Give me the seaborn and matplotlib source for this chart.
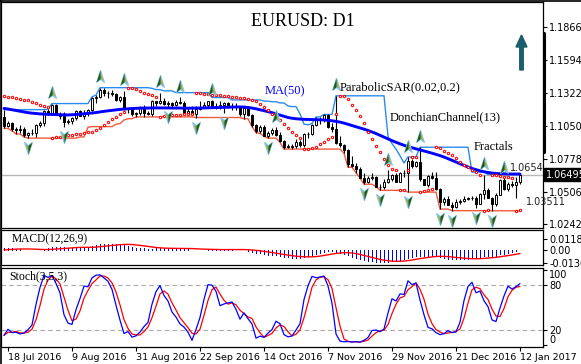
import numpy as np
import pandas as pd
import matplotlib
matplotlib.use("Agg")
import matplotlib.pyplot as plt
import seaborn as sns
from matplotlib.path import Path
from matplotlib.markers import MarkerStyle
from matplotlib.lines import Line2D
from matplotlib.patches import FancyArrow
import matplotlib.transforms as mtrans

sns.set_style("white")
plt.rcParams['font.family'] = ['DejaVu Sans']

# ---------------- data (EURUSD daily, 15 Jul 2016 - 12 Jan 2017) ----------------
opens = [1.1125, 1.1050, 1.1075, 1.1025, 1.1015, 1.1025, 1.0975, 1.0990, 1.0995, 1.1060,
         1.1075, 1.1170, 1.1160, 1.1225, 1.1150, 1.1130, 1.1085, 1.1090, 1.1115, 1.1170,
         1.1135, 1.1160, 1.1180, 1.1280, 1.1290, 1.1350, 1.1325, 1.1320, 1.1310, 1.1265,
         1.1285, 1.1195, 1.1190, 1.1145, 1.1155, 1.1195, 1.1155, 1.1150, 1.1255, 1.1240,
         1.1260, 1.1235, 1.1240, 1.1220, 1.1245, 1.1240, 1.1155, 1.1170, 1.1150, 1.1190,
         1.1210, 1.1225, 1.1255, 1.1215, 1.1215, 1.1220, 1.1240, 1.1210, 1.1205, 1.1205,
         1.1150, 1.1200, 1.1140, 1.1055, 1.1005, 1.1045, 1.0970, 1.0995, 1.1015, 1.0975,
         1.0930, 1.0880, 1.0880, 1.0885, 1.0915, 1.0895, 1.0985, 1.0980, 1.1055, 1.1100,
         1.1100, 1.1140, 1.1045, 1.1025, 1.0910, 1.0895, 1.0855, 1.0735, 1.0720, 1.0695,
         1.0625, 1.0590, 1.0625, 1.0630, 1.0550, 1.0545, 1.0590, 1.0615, 1.0645, 1.0590,
         1.0665, 1.0665, 1.0760, 1.0720, 1.0755, 1.0610, 1.0565, 1.0635, 1.0625, 1.0530,
         1.0420, 1.0450, 1.0400, 1.0385, 1.0425, 1.0435, 1.0450, 1.0455, 1.0455, 1.0410,
         1.0490, 1.0520, 1.0460, 1.0405, 1.0485, 1.0605, 1.0530, 1.0575, 1.0560, 1.0585]
highs = [1.1185, 1.1090, 1.1085, 1.1040, 1.1060, 1.1040, 1.1000, 1.1025, 1.1065, 1.1090,
         1.1185, 1.1190, 1.1235, 1.1230, 1.1165, 1.1165, 1.1105, 1.1125, 1.1180, 1.1185,
         1.1185, 1.1190, 1.1290, 1.1305, 1.1366, 1.1360, 1.1340, 1.1350, 1.1320, 1.1295,
         1.1340, 1.1200, 1.1195, 1.1165, 1.1215, 1.1225, 1.1170, 1.1265, 1.1260, 1.1325,
         1.1280, 1.1255, 1.1250, 1.1265, 1.1285, 1.1255, 1.1195, 1.1215, 1.1215, 1.1255,
         1.1245, 1.1260, 1.1265, 1.1240, 1.1255, 1.1250, 1.1250, 1.1240, 1.1240, 1.1215,
         1.1205, 1.1210, 1.1150, 1.1065, 1.1055, 1.1060, 1.1005, 1.1030, 1.1040, 1.1000,
         1.0935, 1.0905, 1.0905, 1.0945, 1.0935, 1.0990, 1.1000, 1.1070, 1.1125, 1.1125,
         1.1145, 1.1145, 1.1075, 1.1299, 1.0965, 1.0905, 1.0860, 1.0805, 1.0745, 1.0715,
         1.0660, 1.0640, 1.0660, 1.0640, 1.0575, 1.0615, 1.0685, 1.0655, 1.0665, 1.0670,
         1.0690, 1.0795, 1.0780, 1.0765, 1.0875, 1.0615, 1.0650, 1.0670, 1.0670, 1.0535,
         1.0465, 1.0475, 1.0420, 1.0445, 1.0450, 1.0470, 1.0465, 1.0470, 1.0475, 1.0500,
         1.0650, 1.0535, 1.0465, 1.0495, 1.0615, 1.0620, 1.0585, 1.0600, 1.0630, 1.0654]
lows = [1.1030, 1.1040, 1.1010, 1.0985, 1.0995, 1.0960, 1.0950, 1.0975, 1.0960, 1.1040,
        1.1050, 1.1140, 1.1150, 1.1140, 1.1110, 1.1045, 1.1065, 1.1070, 1.1100, 1.1130,
        1.1110, 1.1135, 1.1170, 1.1240, 1.1280, 1.1300, 1.1280, 1.1295, 1.1255, 1.1250,
        1.1180, 1.1155, 1.1135, 1.1125, 1.1140, 1.1125, 1.1140, 1.1135, 1.1215, 1.1230,
        1.1220, 1.1205, 1.1210, 1.1215, 1.1230, 1.1150, 1.1150, 1.1150, 1.1120, 1.1180,
        1.1200, 1.1205, 1.1200, 1.1190, 1.1190, 1.1160, 1.1195, 1.1180, 1.1185, 1.1135,
        1.1110, 1.1135, 1.1045, 1.0995, 1.0990, 1.0965, 1.0950, 1.0975, 1.0970, 1.0915,
        1.0860, 1.0865, 1.0860, 1.0870, 1.0880, 1.0880, 1.0950, 1.0975, 1.1050, 1.1070,
        1.1080, 1.1035, 1.1000, 1.0900, 1.0880, 1.0825, 1.0710, 1.0715, 1.0665, 1.0620,
        1.0570, 1.0580, 1.0605, 1.0550, 1.0520, 1.0530, 1.0580, 1.0600, 1.0585, 1.0590,
        1.0630, 1.0505, 1.0705, 1.0715, 1.0600, 1.0560, 1.0550, 1.0615, 1.0525, 1.0365,
        1.0400, 1.0400, 1.0352, 1.0375, 1.0410, 1.0425, 1.0440, 1.0440, 1.0375, 1.0405,
        1.0450, 1.0455, 1.03511, 1.0390, 1.0480, 1.0525, 1.0515, 1.0550, 1.0455, 1.0570]
closes = [1.1050, 1.1075, 1.1025, 1.1015, 1.1025, 1.0975, 1.0990, 1.0995, 1.1060, 1.1075,
          1.1170, 1.1160, 1.1225, 1.1150, 1.1130, 1.1085, 1.1090, 1.1115, 1.1170, 1.1135,
          1.1160, 1.1180, 1.1280, 1.1290, 1.1350, 1.1325, 1.1320, 1.1310, 1.1265, 1.1285,
          1.1195, 1.1190, 1.1145, 1.1155, 1.1195, 1.1155, 1.1150, 1.1255, 1.1240, 1.1260,
          1.1235, 1.1240, 1.1220, 1.1245, 1.1240, 1.1155, 1.1170, 1.1150, 1.1190, 1.1210,
          1.1225, 1.1255, 1.1215, 1.1215, 1.1220, 1.1240, 1.1210, 1.1205, 1.1205, 1.1150,
          1.1200, 1.1140, 1.1055, 1.1005, 1.1045, 1.0970, 1.0995, 1.1015, 1.0975, 1.0930,
          1.0880, 1.0880, 1.0885, 1.0915, 1.0895, 1.0985, 1.0980, 1.1055, 1.1100, 1.1100,
          1.1140, 1.1045, 1.1025, 1.0910, 1.0895, 1.0855, 1.0735, 1.0720, 1.0695, 1.0625,
          1.0590, 1.0625, 1.0630, 1.0550, 1.0545, 1.0590, 1.0615, 1.0645, 1.0590, 1.0665,
          1.0665, 1.0760, 1.0720, 1.0755, 1.0610, 1.0565, 1.0635, 1.0625, 1.0530, 1.0420,
          1.0450, 1.0400, 1.0385, 1.0425, 1.0435, 1.0450, 1.0455, 1.0455, 1.0410, 1.0490,
          1.0520, 1.0460, 1.0405, 1.0485, 1.0605, 1.0530, 1.0575, 1.0560, 1.0585, 1.06495]
ma50 = [1.1195, 1.1190, 1.1184, 1.1178, 1.1172, 1.1166, 1.1160, 1.1156, 1.1153, 1.1150,
        1.1148, 1.1146, 1.1145, 1.1144, 1.1143, 1.1142, 1.1141, 1.1143, 1.1145, 1.1148,
        1.1151, 1.1154, 1.1157, 1.1161, 1.1166, 1.1171, 1.1175, 1.1179, 1.1183, 1.1187,
        1.1190, 1.1192, 1.1194, 1.1196, 1.1197, 1.1198, 1.1198, 1.1199, 1.1199, 1.1199,
        1.1199, 1.1199, 1.1198, 1.1198, 1.1198, 1.1197, 1.1197, 1.1197, 1.1198, 1.1198,
        1.1199, 1.1200, 1.1201, 1.1202, 1.1203, 1.1204, 1.1205, 1.1206, 1.1207, 1.1207,
        1.1206, 1.1203, 1.1198, 1.1192, 1.1184, 1.1176, 1.1168, 1.1160, 1.1150, 1.1140,
        1.1130, 1.1120, 1.1114, 1.1110, 1.1107, 1.1105, 1.1104, 1.1103, 1.1102, 1.1101,
        1.1100, 1.1097, 1.1093, 1.1088, 1.1082, 1.1074, 1.1064, 1.1054, 1.1044, 1.1034,
        1.1024, 1.1013, 1.1001, 1.0988, 1.0973, 1.0958, 1.0943, 1.0929, 1.0916, 1.0903,
        1.0891, 1.0880, 1.0871, 1.0862, 1.0853, 1.0844, 1.0835, 1.0826, 1.0816, 1.0806,
        1.0794, 1.0781, 1.0767, 1.0753, 1.0739, 1.0725, 1.0712, 1.0700, 1.0690, 1.0681,
        1.0673, 1.0667, 1.0662, 1.0659, 1.0657, 1.0656, 1.0655, 1.0654, 1.0654, 1.0654]
current_price = 1.06495
# indicator state carried in from before the first visible bar
sar_start, sar_ep_start, sar_af_start = 1.1300, 1.0952, 0.02
ema12_start, ema26_start = 1.1072, 1.1045
macd_prior = [-0.0012, -0.0010, -0.0008, -0.0005, -0.0002, 0.0001, 0.0005, 0.0009]

price_ticks = [1.18662, 1.15942, 1.13222, 1.10502, 1.07782, 1.05062, 1.02422]
price_labels = ["1.18662", "1.15942", "1.13222", "1.10502", "1.07782", "1.05062", "1.02422"]
macd_ticks = [0.01183, 0.0, -0.01368]
macd_labels = ["0.01183", "0.00", "-0.01368"]
stoch_ticks = [100, 80, 20, 0]
date_ticks = ["2016-07-18", "2016-08-09", "2016-08-31", "2016-09-22", "2016-10-14",
              "2016-11-07", "2016-11-29", "2016-12-21", "2017-01-12"]
date_labels = ["18 Jul 2016", "9 Aug 2016", "31 Aug 2016", "22 Sep 2016", "14 Oct 2016",
               "7 Nov 2016", "29 Nov 2016", "21 Dec 2016", "12 Jan 2017"]

# ---------------- indicators ----------------
o = np.array(opens); h = np.array(highs); l = np.array(lows); c = np.array(closes)
n = len(c)
x = np.arange(n)
dates = pd.bdate_range("2016-07-15", periods=n)

don_up = pd.Series(h).rolling(13, min_periods=1).max().values
don_lo = pd.Series(l).rolling(13, min_periods=1).min().values


def psar(high, low, s, ep, af, up=False, step=0.02, amax=0.2):
    out = np.zeros(len(high))
    for i in range(len(high)):
        if i > 0:
            s = s + af * (ep - s)
            if up:
                s = min(s, low[i - 1], low[max(i - 2, 0)])
            else:
                s = max(s, high[i - 1], high[max(i - 2, 0)])
        if up and low[i] < s:
            up, s, ep, af = False, ep, low[i], step
        elif (not up) and high[i] > s:
            up, s, ep, af = True, ep, high[i], step
        else:
            if up and high[i] > ep:
                ep, af = high[i], min(af + step, amax)
            elif (not up) and low[i] < ep:
                ep, af = low[i], min(af + step, amax)
        out[i] = s
    return out


sar = psar(h, l, sar_start, sar_ep_start, sar_af_start)


def ema(vals, start, span):
    a = 2.0 / (span + 1)
    out = []
    e = start
    for v in vals:
        e = e + a * (v - e)
        out.append(e)
    return np.array(out)


macd = ema(c, ema12_start, 12) - ema(c, ema26_start, 26)
macd_sig = pd.Series(list(macd_prior) + list(macd)).rolling(9, min_periods=1).mean().values[len(macd_prior):]

cs = pd.Series(c)
hh = pd.Series(h).rolling(5, min_periods=1).max()
ll = pd.Series(l).rolling(5, min_periods=1).min()
st_k = (100 * (cs - ll).rolling(3, min_periods=1).sum() / (hh - ll).rolling(3, min_periods=1).sum()).values
st_d = pd.Series(st_k).rolling(3, min_periods=1).mean().values

frac_up = [i for i in range(2, n - 2) if h[i] > max(h[i - 2], h[i - 1], h[i + 1], h[i + 2])]
frac_dn = [i for i in range(2, n - 2) if l[i] < min(l[i - 2], l[i - 1], l[i + 1], l[i + 2])]

# ---------------- figure ----------------
W, H = 581, 364
fig = plt.figure(figsize=(W / 100, H / 100), dpi=100)
fig.patch.set_facecolor("white")


def fax(left, top, right, bottom):
    return [left / W, 1 - bottom / H, (right - left) / W, (bottom - top) / H]


ax = fig.add_axes(fax(1, 2, 543, 228))
axm = fig.add_axes(fax(1, 230, 543, 265), sharex=ax)
axs = fig.add_axes(fax(1, 268, 543, 347), sharex=ax)

for a in (ax, axm, axs):
    a.set_facecolor("white")
    for sp in a.spines.values():
        sp.set_visible(True)
        sp.set_color("black")
        sp.set_linewidth(0.9)
    a.yaxis.tick_right()
    a.tick_params(axis="y", direction="out", length=3, width=0.8, pad=1.5,
                  labelsize=7, colors="black")
    a.grid(False)


def p_of(ypix):
    return 1.18662 - (ypix - 27) / 1213.0


ax.set_ylim(p_of(228), p_of(2))

# current price line
ax.axhline(current_price, color="#b8b8b8", lw=1.0, zorder=1)

# Donchian channel
sns.lineplot(x=x, y=don_up, ax=ax, color="#2a8cf0", lw=1.0, zorder=2)
sns.lineplot(x=x, y=don_lo, ax=ax, color="#f25a3c", lw=1.0, zorder=2)

# candles
ax.vlines(x, l, h, color="black", lw=0.8, zorder=3)
body_bot = np.minimum(o, c)
body_h = np.maximum(np.abs(c - o), 0.00012)
body_col = ["white" if cc >= oo else "black" for oo, cc in zip(o, c)]
ax.bar(x, body_h, bottom=body_bot, width=0.62, color=body_col, edgecolor="black",
       linewidth=0.7, zorder=4)

# MA(50)
sns.lineplot(x=x, y=ma50, ax=ax, color="#0000ff", lw=2.1, zorder=5)

# Parabolic SAR
ax.plot(x, sar, linestyle="none", marker="o", ms=1.7, mfc="white", mec="#ff0000",
        mew=0.75, zorder=6)

# Fractals
up_full = Path([(0, 1), (0.55, -0.7), (0, -0.25), (-0.55, -0.7), (0, 1)],
               [Path.MOVETO, Path.LINETO, Path.LINETO, Path.LINETO, Path.CLOSEPOLY])
up_half = Path([(0, 1), (0, -0.25), (-0.55, -0.7), (0, 1)],
               [Path.MOVETO, Path.LINETO, Path.LINETO, Path.CLOSEPOLY])
dn_full = Path([(0, -1), (0.55, 0.7), (0, 0.25), (-0.55, 0.7), (0, -1)],
               [Path.MOVETO, Path.LINETO, Path.LINETO, Path.LINETO, Path.CLOSEPOLY])
dn_half = Path([(0, -1), (0, 0.25), (0.55, 0.7), (0, -1)],
               [Path.MOVETO, Path.LINETO, Path.LINETO, Path.CLOSEPOLY])
tr_up = mtrans.offset_copy(ax.transData, fig=fig, y=7.5, units="points")
tr_dn = mtrans.offset_copy(ax.transData, fig=fig, y=-6.5, units="points")
fr_kw = dict(linestyle="none", ms=10, zorder=7)
ax.plot(frac_up, h[frac_up], marker=MarkerStyle(up_full), mfc="#a8a630", mec="#86c4e2",
        mew=0.9, transform=tr_up, **fr_kw)
ax.plot(frac_up, h[frac_up], marker=MarkerStyle(up_half), mfc="#175c1c", mec="none",
        transform=tr_up, **fr_kw)
ax.plot(frac_dn, l[frac_dn], marker=MarkerStyle(dn_full), mfc="#a8a630", mec="#86c4e2",
        mew=0.9, transform=tr_dn, **fr_kw)
ax.plot(frac_dn, l[frac_dn], marker=MarkerStyle(dn_half), mfc="#175c1c", mec="none",
        transform=tr_dn, **fr_kw)

ax.set_yticks(price_ticks)
ax.set_yticklabels(price_labels)
ax.tick_params(axis="x", bottom=False, labelbottom=False)
ax.set_xlabel(""); ax.set_ylabel("")

# price labels
blend = mtrans.blended_transform_factory(ax.transAxes, ax.transData)
ax.text(1.0 + 3 / 542, current_price, "%.5f" % current_price, transform=blend, ha="left",
        va="center", color="white", fontsize=7, clip_on=False, zorder=10,
        bbox=dict(boxstyle="square,pad=0.18", fc="black", ec="black"))
ax.text(n + 4.9, don_up[-1], "%.4f" % don_up[-1], ha="right", va="bottom", fontsize=7,
        color="#222222", clip_on=False,
        transform=mtrans.offset_copy(ax.transData, fig=fig, y=1.0, units="points"))
ax.text(n + 0.5, don_lo[-1], "%.5f" % don_lo[-1], ha="left", va="bottom", fontsize=7,
        color="#222222", clip_on=False, zorder=10,
        transform=mtrans.offset_copy(ax.transData, fig=fig, y=3.0, units="points"))

# MACD panel
axm.set_ylim(-0.0156, 0.0208)
axm.vlines(x, 0, macd, colors="#0000ff", lw=0.6, antialiased=False, zorder=2)
sns.lineplot(x=x, y=macd_sig, ax=axm, color="#ff0000", lw=1.0, zorder=3)
axm.set_yticks(macd_ticks)
axm.set_yticklabels(macd_labels)
axm.tick_params(axis="x", bottom=False, labelbottom=False)
axm.set_xlabel(""); axm.set_ylabel("")

# Stochastic panel
axs.set_ylim(-2.67, 102.67)
for lev in (80, 20):
    axs.axhline(lev, color="#a8a8a8", lw=0.8, ls=(0, (4, 3)), zorder=1)
sns.lineplot(x=x, y=st_k, ax=axs, color="#0000ff", lw=0.9, zorder=3)
sns.lineplot(x=x, y=st_d, ax=axs, color="#ff0000", lw=0.9, zorder=2)
axs.set_yticks(stoch_ticks)
axs.set_yticklabels([str(v) for v in stoch_ticks])
slabs = axs.get_yticklabels()
slabs[0].set_va("top"); slabs[3].set_va("bottom")
tick_pos = [dates.get_loc(pd.Timestamp(t)) for t in date_ticks]
axs.set_xticks(tick_pos)
axs.set_xticklabels(date_labels)
axs.tick_params(axis="x", bottom=True, direction="out", length=3, width=0.8, pad=1.5,
                labelsize=6.8, colors="black")
for lab in axs.get_xticklabels():
    lab.set_ha("left")
axs.set_xlabel(""); axs.set_ylabel("")
ax.set_xlim(-0.75, 134.75)

# texts
serif = ["Liberation Serif", "DejaVu Serif"]


def ftxt(px, py, s, **kw):
    fig.text(px / W, 1 - py / H, s, family=serif, **kw)


ftxt(302.5, 22, "EURUSD: D1", ha="center", va="center", fontsize=13, color="black")
ftxt(265, 91, "MA(50)", ha="left", va="center", fontsize=9, color="#0000ff")
ftxt(340, 87, "ParabolicSAR(0.02,0.2)", ha="left", va="center", fontsize=9, color="black")
ftxt(390, 117, "DonchianChannel(13)", ha="left", va="center", fontsize=9, color="black")
ftxt(474, 147, "Fractals", ha="left", va="center", fontsize=9, color="black")
ftxt(12, 239, "MACD(12,26,9)", ha="left", va="center", fontsize=8.3, color="black")
ftxt(9, 276, "Stoch(3,5,3)", ha="left", va="center", fontsize=8.5, color="black")

# arrow and scroll bar (pixel coordinates)
ident = mtrans.IdentityTransform()
fig.add_artist(FancyArrow(521.5, H - 70, 0, 35, width=3.5, head_width=11, head_length=12,
                          length_includes_head=True, color="#1b5f6c", transform=ident))
fig.add_artist(Line2D([543.5, 543.5], [H - 152, H - 33], color="black", lw=2.2,
                      transform=ident))
fig.add_artist(Line2D([0.5, 0.5], [0, H], color="black", lw=1.2, transform=ident))
fig.add_artist(Line2D([0, W], [H - 0.5, H - 0.5], color="black", lw=1.2, transform=ident))

fig.savefig("out.png", dpi=100, facecolor="white")
